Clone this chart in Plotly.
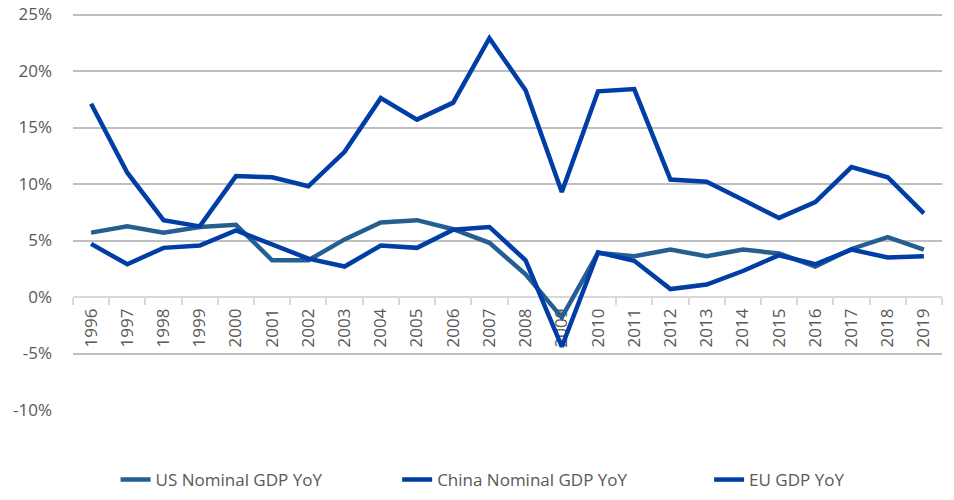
import plotly.graph_objects as go

years = [str(y) for y in range(1996, 2020)]

us_nominal = [5.7, 6.25, 5.7, 6.2, 6.4, 3.25, 3.25, 5.1, 6.6, 6.8, 6.0, 4.8,
              2.0, -1.8, 3.9, 3.6, 4.2, 3.6, 4.2, 3.85, 2.7, 4.25, 5.3, 4.2]
china_nominal = [17.1, 11.0, 6.8, 6.25, 10.7, 10.6, 9.8, 12.85, 17.6, 15.7, 17.2, 22.9,
                 18.3, 9.3, 18.2, 18.4, 10.4, 10.2, 8.6, 7.0, 8.4, 11.5, 10.6, 7.4]
eu_gdp = [4.7, 2.9, 4.35, 4.55, 5.9, 4.65, 3.4, 2.7, 4.55, 4.35, 5.95, 6.2,
          3.25, -4.4, 3.95, 3.2, 0.7, 1.1, 2.3, 3.7, 2.9, 4.2, 3.5, 3.6]

y_ticks = [-10, -5, 0, 5, 10, 15, 20, 25]
y_tick_labels = ['-10%', '-5%', '0%', '5%', '10%', '15%', '20%', '25%']

# a little headroom so the 25% gridline sits inside the plot area
y_min, y_max = -10, 25.4

font_family = "Open Sans, Liberation Sans, sans-serif"

fig = go.Figure()

fig.add_trace(go.Scatter(
    x=years, y=us_nominal, mode='lines', name='US Nominal GDP YoY',
    line=dict(color='#255E91', width=4.5), legend='legend', showlegend=True
))
fig.add_trace(go.Scatter(
    x=years, y=china_nominal, mode='lines', name='China Nominal GDP YoY',
    line=dict(color='#003DA5', width=4.5), legend='legend2', showlegend=True
))
fig.add_trace(go.Scatter(
    x=years, y=eu_gdp, mode='lines', name='EU GDP YoY',
    line=dict(color='#003DA5', width=4.5), legend='legend3', showlegend=True
))

# one legend box per entry so the spacing can follow the original
legend_style = dict(orientation='h', xanchor='left', y=-0.175, yanchor='middle',
                    font=dict(size=17, color='#595959'), bgcolor='rgba(0,0,0,0)')

# page body adds an 8px offset, so the figure is a bit smaller than the window
fig.update_layout(
    width=938, height=484,
    margin=dict(l=65, r=4, t=1.5, b=82, autoexpand=False),
    plot_bgcolor='white', paper_bgcolor='white',
    font=dict(family=font_family, color='#595959', size=17),
    showlegend=True,
    legend=dict(x=0.049, **legend_style),
    legend2=dict(x=0.373, **legend_style),
    legend3=dict(x=0.732, **legend_style),
)

fig.update_xaxes(
    type='category', range=[-0.5, len(years) - 0.5],
    anchor='free', position=(0 - y_min) / (y_max - y_min),
    showline=True, linecolor='#D9D9D9', linewidth=1.5,
    ticks='outside', tickson='boundaries', ticklen=7, tickcolor='#D9D9D9', tickwidth=1.5,
    tickangle=-90, showgrid=False, layer='below traces', ticklabelstandoff=4,
    tickfont=dict(size=17, color='#595959'),
)

fig.update_yaxes(
    range=[y_min, y_max], tickvals=y_ticks, ticktext=y_tick_labels,
    showgrid=True, gridcolor='#BFBFBF', gridwidth=1.5,
    zeroline=False, ticklabelstandoff=20, ticklabeloverflow='allow',
    tickfont=dict(size=17, color='#595959'),
)

fig.write_html("out.html")
